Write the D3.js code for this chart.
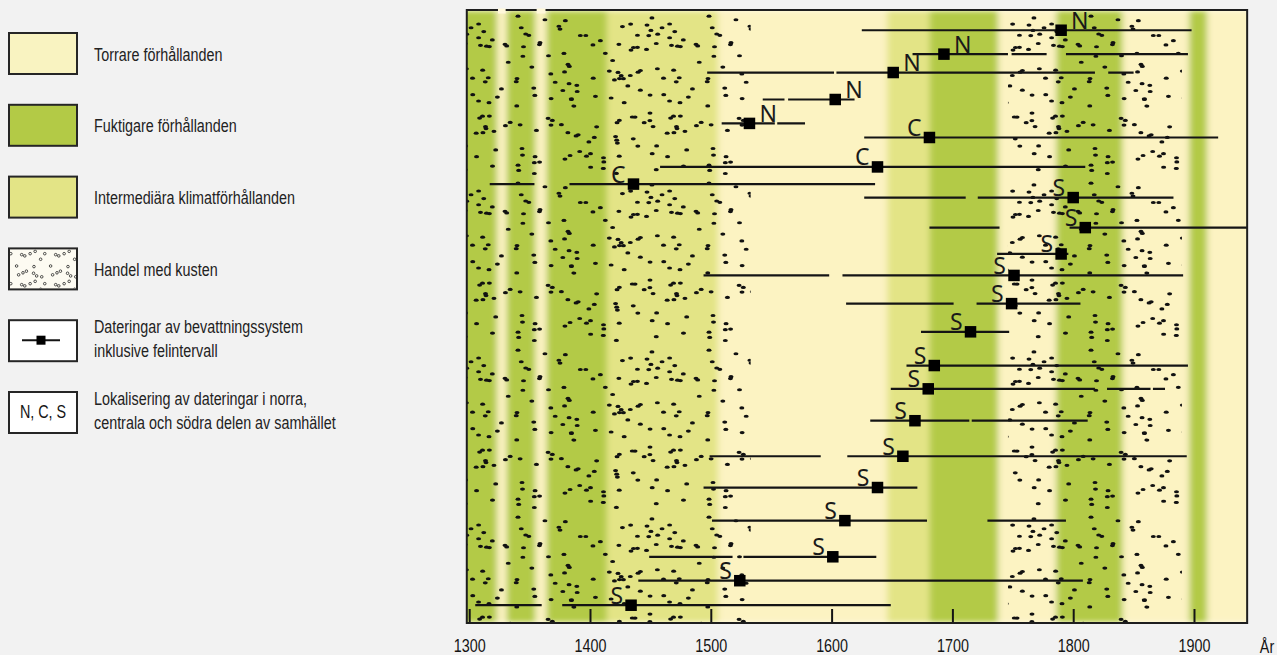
<!DOCTYPE html>
<html>
<head>
<meta charset="utf-8">
<script src="https://cdn.jsdelivr.net/npm/d3@7"></script>
<style>
  html, body { margin: 0; padding: 0; background: #f2f2f2; }
  svg { display: block; }
</style>
</head>
<body>
<script>
// ---------------- DATA ----------------
// Climate bands (years)
const bandStart = [1290, 1323, 1331, 1355, 1364, 1414, 1506, 1646, 1681, 1738, 1786, 1841, 1896, 1911];
const bandEnd   = [1323, 1331, 1355, 1364, 1414, 1506, 1646, 1681, 1738, 1786, 1841, 1896, 1911, 1950];
const bandType  = ["humid","dry","humid","dry","humid","inter","dry","inter","humid","dry","humid","dry","humid","dry"];

// Trade with the coast (stippled periods, years)
const tradeStart = [1290, 1746];
const tradeEnd   = [1533, 1890];

// Datings of irrigation systems
const rowLevel  = [96.7, 92.8, 89.8, 85.4, 81.5, 79.2, 74.4, 71.6, 69.4, 64.5, 60.2, 56.7, 52.1, 47.5, 42.0, 38.2, 33.0, 27.2, 22.1, 16.7, 10.8, 6.9, 2.9];
const rowYear   = [1790, 1693, 1651, 1603, 1532, 1681, 1638, 1436, 1800, 1810, 1790, 1751, 1749, 1715, 1685, 1680, 1669, 1659, 1638, 1611, 1601, 1524, 1434];
const rowRegion = ["N","N","N","N","N","C","C","C","S","S","S","S","S","S","S","S","S","S","S","S","S","S","S"];
const rowSegments = [
  [[1625,1898]],
  [[1667,1746],[1749,1778],[1794,1895]],
  [[1497,1602],[1604,1818],[1829,1850]],
  [[1543,1561],[1564,1619]],
  [[1509,1553],[1555,1578]],
  [[1627,1920]],
  [[1458,1810]],
  [[1317,1354],[1383,1636]],
  [[1627,1711],[1721,1883]],
  [[1681,1739],[1797,1950]],
  [[1737,1796]],
  [[1494,1598],[1609,1891]],
  [[1612,1701],[1720,1806]],
  [[1674,1747]],
  [[1662,1895]],
  [[1649,1818],[1828,1864],[1866,1876]],
  [[1632,1714],[1716,1812]],
  [[1499,1591],[1613,1894]],
  [[1494,1671]],
  [[1501,1679],[1729,1794]],
  [[1449,1518],[1527,1637]],
  [[1440,1808]],
  [[1305,1360],[1377,1649]]
];

// Axis
const tickYears = [1300, 1400, 1500, 1600, 1700, 1800, 1900];
const axisTitle = "År";
const frameYears = [1298, 1944];

// Legend
const legendKinds = ["dry", "humid", "inter", "trade", "dating", "region"];
const legendText = [
  ["Torrare förhållanden"],
  ["Fuktigare förhållanden"],
  ["Intermediära klimatförhållanden"],
  ["Handel med kusten"],
  ["Dateringar av bevattningssystem", "inklusive felintervall"],
  ["Lokalisering av dateringar i norra,", "centrala och södra delen av samhället"]
];
const legendSymbolText = "N, C, S";

// ---------------- STYLE ----------------
const bandColor = { dry: "#fcf3c2", humid: "#b3ca46", inter: "#e3e486" };
const ink = "#141414";
const narrowFont = "'Liberation Sans', Arial, sans-serif";
const narrowScale = 0.82;

// ---------------- CHART ----------------
const W = 1277, H = 655;
const svg = d3.select("body").append("svg").attr("width", W).attr("height", H);
svg.append("rect").attr("width", W).attr("height", H).attr("fill", "#f2f2f2");

function narrowText(parent, px, py, str, size, anchor, fill) {
  return parent.append("text")
    .attr("transform", `translate(${px},${py}) scale(${narrowScale},1)`)
    .attr("font-family", narrowFont).attr("font-size", size)
    .attr("text-anchor", anchor || "start").attr("fill", fill || ink).text(str);
}

const x = d3.scaleLinear().domain([1300, 1900]).range([469.2, 1194]);
const y = d3.scaleLinear().domain([0, 100]).range([623, 10]);

const fx0 = x(frameYears[0]), fx1 = x(frameYears[1]);
const fy0 = y(100), fy1 = y(0);

const defs = svg.append("defs");
defs.append("clipPath").attr("id", "plotClip")
  .append("rect").attr("x", fx0).attr("y", fy0).attr("width", fx1 - fx0).attr("height", fy1 - fy0);

const blur = defs.append("filter").attr("id", "soft")
  .attr("filterUnits", "userSpaceOnUse").attr("x", 0).attr("y", 0).attr("width", W).attr("height", H);
blur.append("feGaussianBlur").attr("stdDeviation", "3.2 2.5");

// stipple texture tile (decorative fill pattern, seamless)
function lcg(seed) { let s = seed >>> 0; return () => { s = (s * 1664525 + 1013904223) % 4294967296; return s / 4294967296; }; }
const rnd = lcg(24681);
const tileW = 191, tileH = 167;
const pat = defs.append("pattern").attr("id", "dots").attr("patternUnits", "userSpaceOnUse")
  .attr("width", tileW).attr("height", tileH);
for (let i = 0; i < 150; i++) {
  const cx = rnd() * tileW, cy = rnd() * tileH;
  for (const ox of [-tileW, 0, tileW]) for (const oy of [-tileH, 0, tileH]) {
    pat.append("ellipse").attr("cx", cx + ox).attr("cy", cy + oy)
      .attr("rx", 2.5).attr("ry", 1.6).attr("fill", "#111");
  }
}
const rnd2 = lcg(9137);
const lW = 34, lH = 30;
const patL = defs.append("pattern").attr("id", "dotsLegend").attr("patternUnits", "userSpaceOnUse")
  .attr("width", lW).attr("height", lH);
for (let i = 0; i < 14; i++) {
  const cx = rnd2() * lW, cy = rnd2() * lH;
  for (const ox of [-lW, 0, lW]) for (const oy of [-lH, 0, lH]) {
    patL.append("circle").attr("cx", cx + ox).attr("cy", cy + oy).attr("r", 1.3)
      .attr("fill", "none").attr("stroke", "#222").attr("stroke-width", 0.8);
  }
}

const plot = svg.append("g").attr("clip-path", "url(#plotClip)");
plot.append("rect").attr("x", fx0).attr("y", fy0).attr("width", fx1 - fx0).attr("height", fy1 - fy0)
  .attr("fill", "#fffbe6");

const bandIdx = d3.range(bandStart.length);
plot.append("g").attr("filter", "url(#soft)")
  .selectAll("rect").data(bandIdx).join("rect")
  .attr("x", i => x(bandStart[i]))
  .attr("width", i => x(bandEnd[i]) - x(bandStart[i]))
  .attr("y", fy0 + 1).attr("height", fy1 - fy0 - 2)
  .attr("fill", i => bandColor[bandType[i]]);

plot.append("g").selectAll("rect").data(d3.range(tradeStart.length)).join("rect")
  .attr("x", i => x(tradeStart[i]))
  .attr("width", i => x(tradeEnd[i]) - x(tradeStart[i]))
  .attr("y", fy0).attr("height", fy1 - fy0)
  .attr("fill", "url(#dots)");

// axis ticks (inside, pointing up)
const axis = d3.axisBottom(x).tickValues(tickYears).tickFormat(d3.format("d"))
  .tickSizeInner(-14).tickSizeOuter(0).tickPadding(17);
const gAxis = svg.append("g").attr("transform", `translate(0,${fy1})`).call(axis);
gAxis.select(".domain").remove();
gAxis.selectAll(".tick line").attr("stroke", ink).attr("stroke-width", 2);
gAxis.selectAll(".tick text")
  .attr("font-family", narrowFont).attr("font-size", 17.5).attr("fill", ink)
  .attr("transform", `scale(${narrowScale},1)`);
narrowText(svg, x(1900) + 73, 652.7, axisTitle, 17.5, "middle");

// dating rows
const rows = svg.append("g").attr("clip-path", "url(#plotClip)");
const rowIdx = d3.range(rowYear.length);
rowIdx.forEach(i => {
  const yy = y(rowLevel[i]);
  rows.append("g").selectAll("line").data(rowSegments[i]).join("line")
    .attr("x1", d => x(d[0])).attr("x2", d => x(d[1]))
    .attr("y1", yy).attr("y2", yy)
    .attr("stroke", ink).attr("stroke-width", 2.2);
});
const sq = 11.5;
rows.selectAll("rect.marker").data(rowIdx).join("rect").attr("class", "marker")
  .attr("x", i => x(rowYear[i]) - sq / 2).attr("y", i => y(rowLevel[i]) - sq / 2)
  .attr("width", sq).attr("height", sq).attr("fill", "#000");
rows.selectAll("text.region").data(rowIdx).join("text").attr("class", "region")
  .attr("x", i => rowRegion[i] === "N" ? x(rowYear[i]) + 10 : x(rowYear[i]) - 8)
  .attr("y", i => y(rowLevel[i]) - 1.5)
  .attr("text-anchor", i => rowRegion[i] === "N" ? "start" : "end")
  .attr("font-family", "'Noto Sans', 'Open Sans', sans-serif")
  .attr("font-size", 23).attr("fill", "#1a1a1a")
  .text(i => rowRegion[i]);

// frame
svg.append("rect").attr("x", fx0).attr("y", fy0).attr("width", fx1 - fx0).attr("height", fy1 - fy0)
  .attr("fill", "none").attr("stroke", "#1e1e1e").attr("stroke-width", 2);
// pale narrow strips break the top border
svg.append("g").selectAll("rect").data(bandIdx.filter(i => bandType[i] === "dry" && bandEnd[i] - bandStart[i] < 12)).join("rect")
  .attr("x", i => x(bandStart[i]) + 1).attr("width", i => x(bandEnd[i]) - x(bandStart[i]) - 2)
  .attr("y", fy0 - 1.5).attr("height", 5).attr("fill", "#fff8da");

// ---------------- LEGEND ----------------
const lg = svg.append("g");
const boxX = 9, boxW = 68, boxH = 41, boxTop0 = 33, boxStep = 71.8;
legendKinds.forEach((k, i) => {
  const top = boxTop0 + i * boxStep;
  let fill = "#ffffff";
  if (k === "humid" || k === "inter") fill = bandColor[k];
  if (k === "dry") fill = "#f9f3c1";
  if (k === "trade") fill = "#fdfbf2";
  lg.append("rect").attr("x", boxX).attr("y", top).attr("width", boxW).attr("height", boxH)
    .attr("fill", fill).attr("stroke", "#262626").attr("stroke-width", 2);
  if (k === "trade") {
    lg.append("rect").attr("x", boxX + 1).attr("y", top + 1).attr("width", boxW - 2).attr("height", boxH - 2)
      .attr("fill", "url(#dotsLegend)");
  }
  if (k === "dating") {
    lg.append("line").attr("x1", boxX + 13).attr("x2", boxX + 51).attr("y1", top + 20).attr("y2", top + 20)
      .attr("stroke", ink).attr("stroke-width", 2);
    lg.append("rect").attr("x", boxX + 27.5).attr("y", top + 15.5).attr("width", 9).attr("height", 9).attr("fill", "#000");
  }
  if (k === "region") {
    narrowText(lg, boxX + boxW / 2, top + 25.5, legendSymbolText, 17.5, "middle");
  }
  const lines = legendText[i];
  lines.forEach((t, j) => {
    const by = lines.length === 1 ? top + 27.5 : top + 13.2 + j * 23.5;
    narrowText(lg, 94, by, t, 17.5, "start", "#222");
  });
});
</script>
</body>
</html>
